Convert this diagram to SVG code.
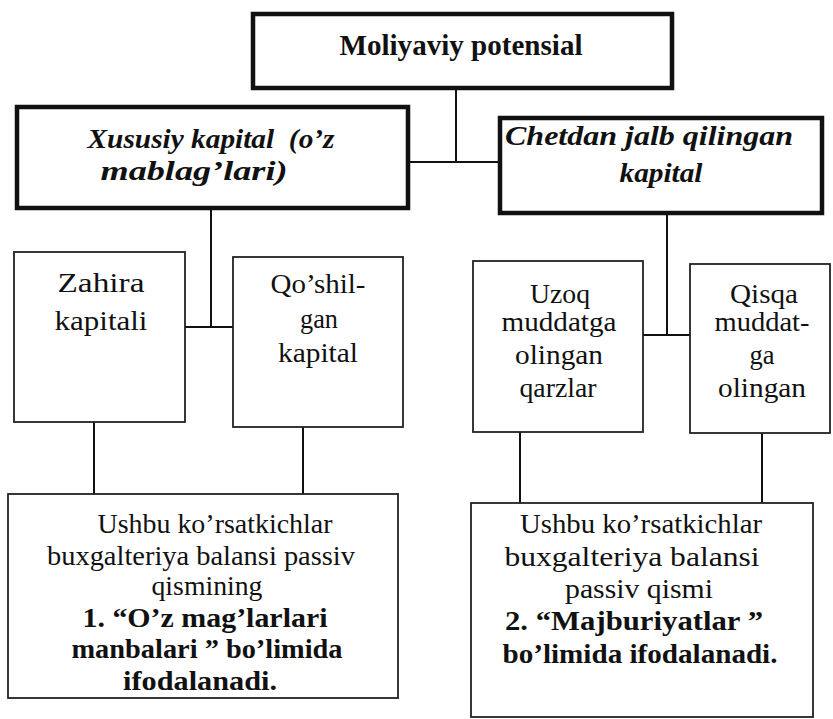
<svg xmlns="http://www.w3.org/2000/svg" width="833" height="719" viewBox="0 0 833 719">
  <style>
    text { font-family: "Liberation Serif", "DejaVu Serif", serif; fill: #111; text-anchor: middle; white-space: pre; }
    .title { font-size: 30px; font-weight: bold; }
    .head { font-size: 28px; font-weight: bold; font-style: italic; }
    .item { font-size: 28px; }
    .note { font-size: 27px; }
    .noteb { font-size: 27px; font-weight: bold; }
    .thick { fill: #fff; stroke: #111; stroke-width: 4.5; }
    .thin { fill: #fff; stroke: #222; stroke-width: 1.8; }
    .link { fill: none; stroke: #111; stroke-width: 2; }
  </style>
  <rect width="833" height="719" fill="#fff"/>

  <!-- connectors -->
  <g id="connectors" class="link">
    <path d="M456 88 V162 M408 162 H500"/>
    <path d="M211 208 V327 M185 327 H233"/>
    <path d="M667 213 V335 M643 335 H690"/>
    <path d="M94 422 V494 M303 427 V497"/>
    <path d="M520 432 V503 M762 433 V505"/>
  </g>

  <!-- top level -->
  <g id="moliyaviy-potensial">
    <rect class="thick" x="253" y="14" width="419" height="74"/>
    <text class="title" x="461" y="55" textLength="243" lengthAdjust="spacingAndGlyphs">Moliyaviy potensial</text>
  </g>

  <!-- second level -->
  <g id="xususiy-kapital">
    <rect class="thick" x="17" y="107" width="391" height="101"/>
    <text class="head" x="211" y="148" textLength="247" lengthAdjust="spacingAndGlyphs">Xususiy kapital  (o’z</text>
    <text class="head" x="194" y="180" textLength="187" lengthAdjust="spacingAndGlyphs">mablag’lari)</text>
  </g>
  <g id="chetdan-jalb">
    <rect class="thick" x="500" y="118" width="322" height="95"/>
    <text class="head" x="649" y="145" textLength="288" lengthAdjust="spacingAndGlyphs">Chetdan jalb qilingan</text>
    <text class="head" x="661" y="182" textLength="83" lengthAdjust="spacingAndGlyphs">kapital</text>
  </g>

  <!-- third level -->
  <g id="zahira-kapitali">
    <rect class="thin" x="14" y="252" width="171" height="170"/>
    <text class="item" x="101" y="292" textLength="87" lengthAdjust="spacingAndGlyphs">Zahira</text>
    <text class="item" x="101" y="330" textLength="93" lengthAdjust="spacingAndGlyphs">kapitali</text>
  </g>
  <g id="qoshilgan-kapital">
    <rect class="thin" x="233" y="257" width="170" height="170"/>
    <text class="item" x="318" y="293" textLength="95" lengthAdjust="spacingAndGlyphs">Qo’shil-</text>
    <text class="item" x="319" y="328" textLength="38" lengthAdjust="spacingAndGlyphs">gan</text>
    <text class="item" x="318" y="362" textLength="80" lengthAdjust="spacingAndGlyphs">kapital</text>
  </g>
  <g id="uzoq-muddatga">
    <rect class="thin" x="473" y="261" width="170" height="171"/>
    <text class="item" x="560" y="303" textLength="60" lengthAdjust="spacingAndGlyphs">Uzoq</text>
    <text class="item" x="559" y="331" textLength="115" lengthAdjust="spacingAndGlyphs">muddatga</text>
    <text class="item" x="559" y="364" textLength="88" lengthAdjust="spacingAndGlyphs">olingan</text>
    <text class="item" x="558" y="397" textLength="77" lengthAdjust="spacingAndGlyphs">qarzlar</text>
  </g>
  <g id="qisqa-muddatga">
    <rect class="thin" x="690" y="264" width="140" height="169"/>
    <text class="item" x="764" y="303" textLength="68" lengthAdjust="spacingAndGlyphs">Qisqa</text>
    <text class="item" x="762" y="331" textLength="95" lengthAdjust="spacingAndGlyphs">muddat-</text>
    <text class="item" x="762" y="364" textLength="25" lengthAdjust="spacingAndGlyphs">ga</text>
    <text class="item" x="762" y="397" textLength="88" lengthAdjust="spacingAndGlyphs">olingan</text>
  </g>

  <!-- balance notes -->
  <g id="izoh-ozmablag">
    <rect class="thin" x="8" y="494" width="390" height="204"/>
    <text class="note" x="215" y="533" textLength="235" lengthAdjust="spacingAndGlyphs">Ushbu ko’rsatkichlar</text>
    <text class="note" x="201" y="565" textLength="308" lengthAdjust="spacingAndGlyphs">buxgalteriya balansi passiv</text>
    <text class="note" x="207" y="595" textLength="111" lengthAdjust="spacingAndGlyphs">qismining</text>
    <text class="noteb" x="205" y="627" textLength="245" lengthAdjust="spacingAndGlyphs">1. “O’z mag’larlari</text>
    <text class="noteb" x="207" y="658" textLength="271" lengthAdjust="spacingAndGlyphs">manbalari ” bo’limida</text>
    <text class="noteb" x="200" y="690" textLength="154" lengthAdjust="spacingAndGlyphs">ifodalanadi.</text>
  </g>
  <g id="izoh-majburiyatlar">
    <rect class="thin" x="471" y="503" width="342" height="214"/>
    <text class="note" x="641" y="533" textLength="242" lengthAdjust="spacingAndGlyphs">Ushbu ko’rsatkichlar</text>
    <text class="note" x="632" y="566" textLength="255" lengthAdjust="spacingAndGlyphs">buxgalteriya balansi</text>
    <text class="note" x="639" y="598" textLength="148" lengthAdjust="spacingAndGlyphs">passiv qismi</text>
    <text class="noteb" x="634" y="630" textLength="258" lengthAdjust="spacingAndGlyphs">2. “Majburiyatlar ”</text>
    <text class="noteb" x="640" y="663" textLength="275" lengthAdjust="spacingAndGlyphs">bo’limida ifodalanadi.</text>
  </g>
</svg>
